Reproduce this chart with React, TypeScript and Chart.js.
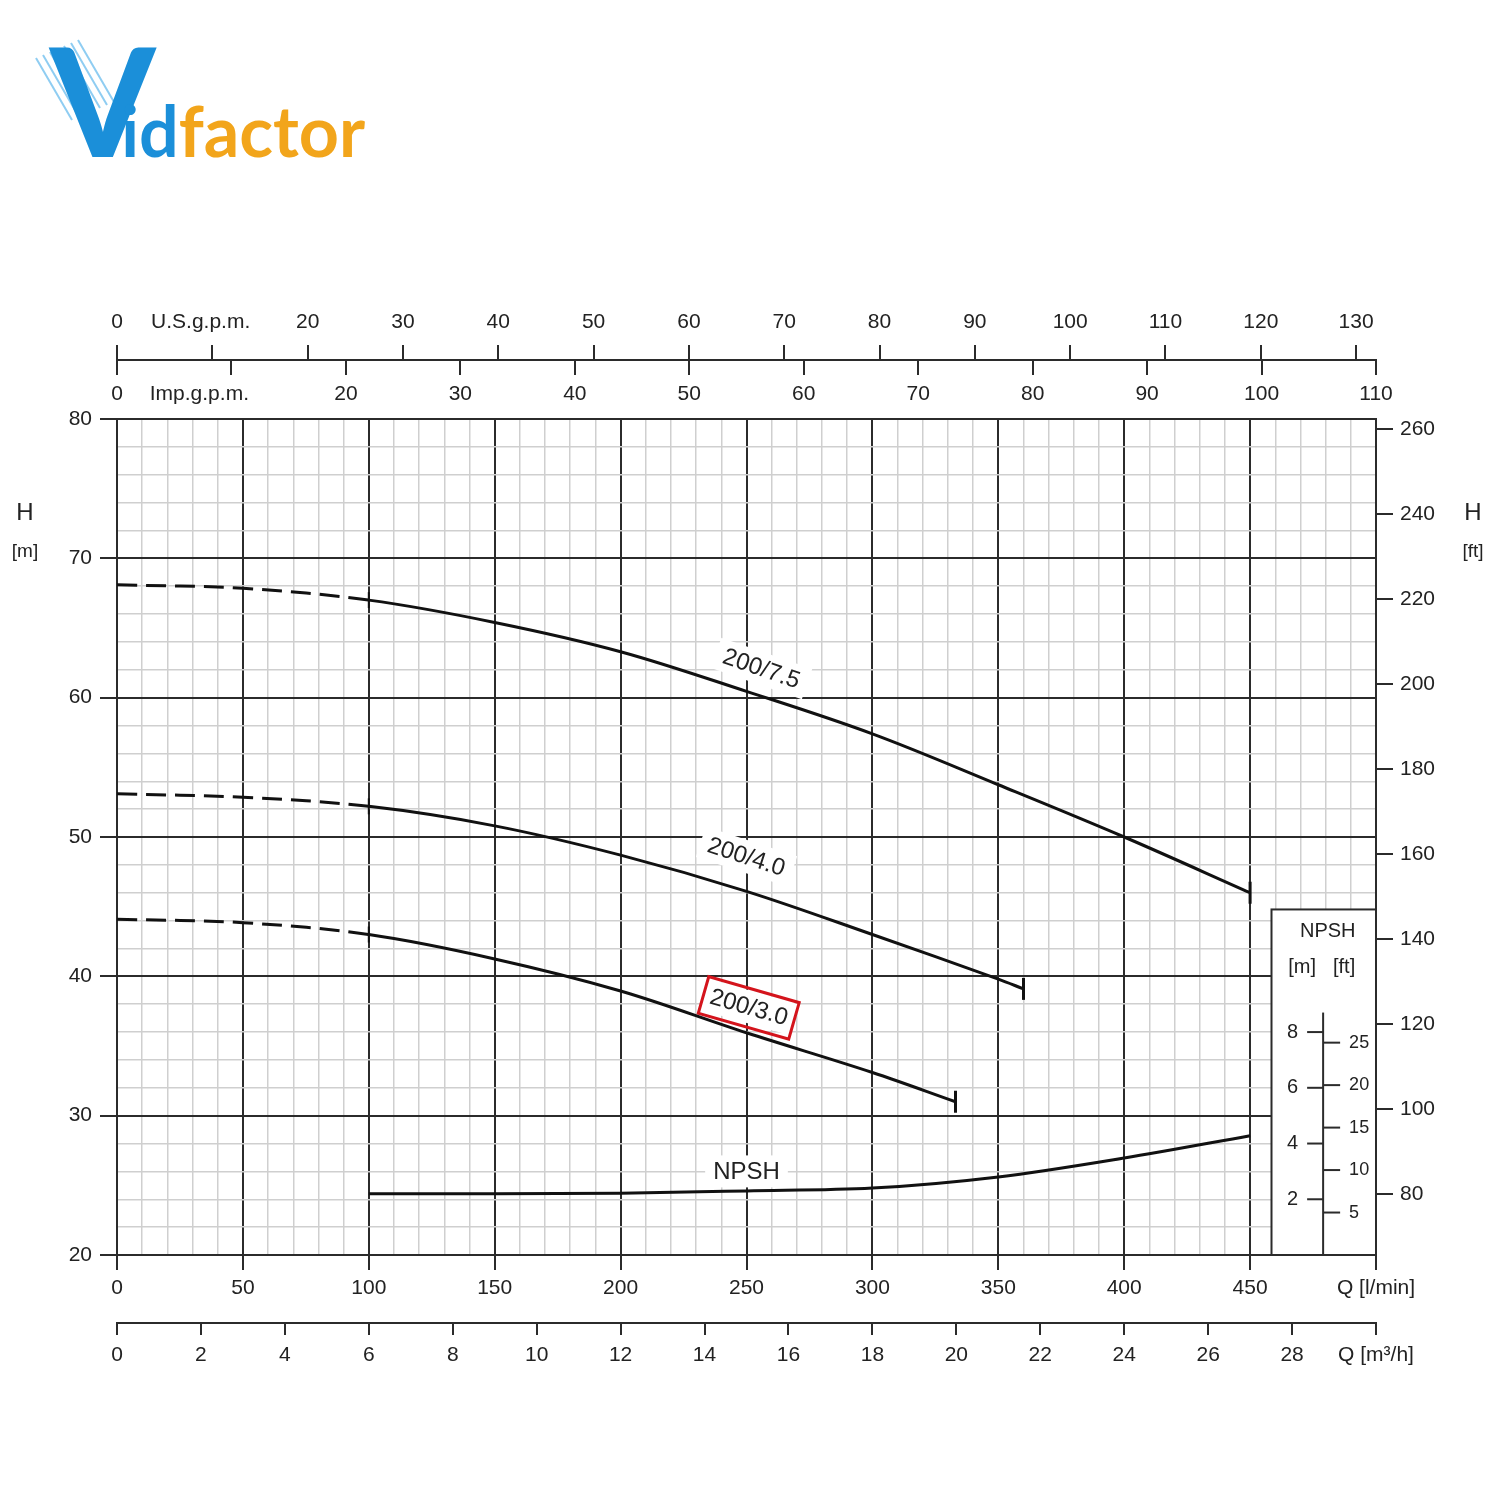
import React, { useEffect, useRef } from 'react';
import { Chart, registerables } from 'chart.js';

Chart.register(...registerables);

// ---------- data ----------
const Q_75 = [0, 50, 100, 150, 200, 250, 300, 350, 400, 450];
const H_75 = [68.1, 67.85, 67.0, 65.4, 63.3, 60.45, 57.4, 53.75, 50.0, 46.0];
const Q_40 = [0, 50, 100, 150, 200, 250, 300, 350, 360];
const H_40 = [53.1, 52.85, 52.2, 50.8, 48.7, 46.1, 43.0, 39.8, 39.1];
const Q_30 = [0, 50, 100, 150, 200, 250, 300, 333];
const H_30 = [44.1, 43.85, 43.0, 41.25, 38.95, 35.95, 33.1, 31.0];
const Q_NPSH = [100, 150, 200, 250, 300, 350, 400, 450];
const NPSH_M = [2.2, 2.2, 2.22, 2.3, 2.4, 2.8, 3.48, 4.28];

const CURVE_NAMES = ['200/7.5', '200/4.0', '200/3.0', 'NPSH'];

// ---------- tick labels ----------
const Q_LMIN_LABELS = [0, 50, 100, 150, 200, 250, 300, 350, 400, 450];
const Q_LMIN_UNIT = 'Q [l/min]';
const M3H_TICKS = [0, 2, 4, 6, 8, 10, 12, 14, 16, 18, 20, 22, 24, 26, 28, 30];
const M3H_UNIT = 'Q [m³/h]';
const US_GPM_TICKS = [0, 10, 20, 30, 40, 50, 60, 70, 80, 90, 100, 110, 120, 130];
const US_GPM_NAME = 'U.S.g.p.m.';
const IMP_GPM_TICKS = [0, 10, 20, 30, 40, 50, 60, 70, 80, 90, 100, 110];
const IMP_GPM_NAME = 'Imp.g.p.m.';
const H_M_LABELS = [20, 30, 40, 50, 60, 70, 80];
const H_FT_TICKS = [80, 100, 120, 140, 160, 180, 200, 220, 240, 260];
const NPSH_M_TICKS = [2, 4, 6, 8];
const NPSH_FT_TICKS = [5, 10, 15, 20, 25];

// ---------- unit conversions ----------
const L_PER_USGAL = 3.78541;
const FT_PER_M = 3.28084;

// ---------- styling / placement ----------
const FONT = "'Liberation Sans', Arial, sans-serif";
const DARK = '#2b2b2b';
const MINOR = '#cfcfcf';
const TEXT = '#222';
const CLEAR = 'rgba(0,0,0,0)';

const LABEL_POS = [
  { q: 256, h: 62.1, angle: 19, boxed: false },
  { q: 250, h: 48.6, angle: 18, boxed: false },
  { q: 251, h: 37.8, angle: 16, boxed: true },
  { q: 250, h: 26.0, angle: 0, boxed: false },
];
const INSET = { qLeft: 458.5, hTop: 44.8, axisQ: 479, axisTopNpsh: 8.7 };

const isMajorQ = (v: number) => Math.round(v) % 50 === 0;
const isMajorH = (v: number) => Math.round(v) % 10 === 0;

function curveDataset(qs: number[], hs: number[]) {
  const last = qs.length - 1;
  return {
    data: qs.map((q, i) => ({ x: q, y: hs[i] })),
    xAxisID: 'x',
    yAxisID: 'y',
    borderColor: '#111',
    borderWidth: 3,
    tension: 0.35,
    pointStyle: 'line',
    rotation: 90,
    pointBorderColor: '#111',
    pointBackgroundColor: '#111',
    pointRadius: (c: any) => (c.dataIndex === last ? 11 : c.raw && c.raw.x === 100 ? 8 : 0),
    pointBorderWidth: (c: any) => (c.dataIndex === last ? 3 : 2),
    segment: {
      borderDash: (c: any) => (c.p1.parsed.x <= 100 ? [20, 9] : undefined),
    },
  };
}

const decor = {
  id: 'decor',
  beforeDatasetsDraw(chart: any) {
    const { ctx } = chart;
    const x = chart.scales.x;
    const y = chart.scales.y;
    const yN = chart.scales.yN;
    const line = (x1: number, y1: number, x2: number, y2: number) => {
      ctx.beginPath();
      ctx.moveTo(x1, y1);
      ctx.lineTo(x2, y2);
      ctx.stroke();
    };

    // curve labels
    CURVE_NAMES.forEach((name, i) => {
      const p = LABEL_POS[i];
      const px = x.getPixelForValue(p.q);
      const py = y.getPixelForValue(p.h);
      ctx.save();
      ctx.translate(px, py);
      ctx.rotate((p.angle * Math.PI) / 180);
      ctx.font = `24px ${FONT}`;
      const w = ctx.measureText(name).width;
      ctx.fillStyle = '#fff';
      ctx.fillRect(-w / 2 - 8, -16, w + 16, 32);
      ctx.fillStyle = TEXT;
      ctx.textAlign = 'center';
      ctx.textBaseline = 'middle';
      ctx.fillText(name, 0, 1);
      if (p.boxed) {
        ctx.strokeStyle = '#d4141c';
        ctx.lineWidth = 3;
        ctx.strokeRect(-w / 2 - 7, -18, w + 14, 38);
      }
      ctx.restore();
    });

    // NPSH inset
    const bx0 = x.getPixelForValue(INSET.qLeft);
    const by0 = y.getPixelForValue(INSET.hTop);
    const bx1 = chart.chartArea.right;
    const by1 = chart.chartArea.bottom;
    ctx.save();
    ctx.fillStyle = '#fff';
    ctx.fillRect(bx0, by0, bx1 - bx0, by1 - by0);
    ctx.strokeStyle = DARK;
    ctx.lineWidth = 2;
    ctx.strokeRect(bx0, by0, bx1 - bx0, by1 - by0);
    const ax = x.getPixelForValue(INSET.axisQ);
    line(ax, yN.getPixelForValue(INSET.axisTopNpsh), ax, by1);
    ctx.fillStyle = TEXT;
    ctx.textBaseline = 'middle';
    ctx.font = `20px ${FONT}`;
    NPSH_M_TICKS.forEach((v) => {
      const py = yN.getPixelForValue(v);
      line(ax - 16, py, ax, py);
      ctx.textAlign = 'right';
      ctx.fillText(String(v), ax - 25, py);
    });
    ctx.font = `18px ${FONT}`;
    NPSH_FT_TICKS.forEach((v) => {
      const py = yN.getPixelForValue(v / FT_PER_M);
      line(ax, py, ax + 17, py);
      ctx.textAlign = 'left';
      ctx.fillText(String(v), ax + 26, py);
    });
    ctx.font = `20px ${FONT}`;
    ctx.textAlign = 'center';
    ctx.fillText('NPSH', (bx0 + bx1) / 2 + 4, by0 + 22);
    ctx.fillText('[m]', ax - 21, by0 + 58);
    ctx.fillText('[ft]', ax + 21, by0 + 58);
    ctx.restore();
  },
  afterDraw(chart: any) {
    const { ctx, chartArea } = chart;
    const imp = chart.scales.xImp;
    ctx.save();
    ctx.strokeStyle = DARK;
    ctx.lineWidth = 2;
    imp.ticks.forEach((t: any) => {
      const px = Math.round(imp.getPixelForValue(t.value));
      ctx.beginPath();
      ctx.moveTo(px, imp.top);
      ctx.lineTo(px, imp.top + 15);
      ctx.stroke();
    });
    ctx.fillStyle = TEXT;
    ctx.textAlign = 'center';
    ctx.textBaseline = 'middle';
    ctx.font = `24px ${FONT}`;
    ctx.fillText('H', 25, chartArea.top + 94);
    ctx.fillText('H', 1473, chartArea.top + 94);
    ctx.font = `19px ${FONT}`;
    ctx.fillText('[m]', 25, chartArea.top + 133);
    ctx.fillText('[ft]', 1473, chartArea.top + 133);
    ctx.restore();
  },
};

const tickFont = { family: FONT, size: 21 };

export default function App() {
  const ref = useRef<HTMLCanvasElement | null>(null);

  useEffect(() => {
    if (!ref.current) return;
    const chart = new Chart(ref.current, {
      type: 'line',
      data: {
        datasets: [
          curveDataset(Q_75, H_75),
          curveDataset(Q_40, H_40),
          curveDataset(Q_30, H_30),
          {
            data: Q_NPSH.map((q, i) => ({ x: q, y: NPSH_M[i] })),
            xAxisID: 'x',
            yAxisID: 'yN',
            borderColor: '#111',
            borderWidth: 3,
            cubicInterpolationMode: 'monotone',
            pointRadius: 0,
          },
        ] as any,
      },
      options: {
        animation: false,
        responsive: false,
        events: [],
        layout: { padding: { top: 290, bottom: 117, left: 0, right: 0 } },
        plugins: { legend: { display: false }, tooltip: { enabled: false } },
        scales: {
          x: {
            type: 'linear',
            position: 'bottom',
            weight: 0,
            min: 0,
            max: 500,
            afterFit: (s: any) => { s.height = 68; },
            ticks: {
              stepSize: 10,
              autoSkip: false,
              maxRotation: 0,
              padding: 6,
              font: tickFont,
              color: TEXT,
              callback: (v: any) =>
                v === 500 ? Q_LMIN_UNIT : Q_LMIN_LABELS.includes(v) ? String(v) : '',
            },
            grid: {
              color: (c: any) => (c.tick && isMajorQ(c.tick.value) ? DARK : MINOR),
              lineWidth: (c: any) => (c.tick && isMajorQ(c.tick.value) ? 2 : 1.5),
              tickLength: 15,
              tickWidth: 2,
              tickColor: (c: any) => (c.tick && isMajorQ(c.tick.value) ? DARK : CLEAR),
            },
            border: { display: true, color: DARK, width: 2 },
          },
          xM3: {
            type: 'linear',
            position: 'bottom',
            weight: 1,
            min: 0,
            max: 30,
            afterFit: (s: any) => { s.height = 60; },
            afterBuildTicks: (s: any) => { s.ticks = M3H_TICKS.map((v) => ({ value: v })); },
            ticks: {
              autoSkip: false,
              maxRotation: 0,
              padding: 8,
              font: tickFont,
              color: TEXT,
              callback: (v: any) => (v === 30 ? M3H_UNIT : String(v)),
            },
            grid: { drawOnChartArea: false, color: DARK, lineWidth: 2, tickLength: 12 },
            border: { display: true, color: DARK, width: 2 },
          },
          xUS: {
            type: 'linear',
            position: 'top',
            weight: 2,
            min: 0,
            max: 500 / L_PER_USGAL,
            afterFit: (s: any) => { s.height = 70; },
            afterBuildTicks: (s: any) => { s.ticks = US_GPM_TICKS.map((v) => ({ value: v })); },
            ticks: {
              autoSkip: false,
              maxRotation: 0,
              padding: 10,
              font: tickFont,
              color: TEXT,
              callback: (v: any) => (v === 10 ? US_GPM_NAME + '    ' : String(v)),
            },
            grid: { drawOnChartArea: false, color: DARK, lineWidth: 2, tickLength: 15 },
            border: { display: true, color: DARK, width: 2 },
          },
          xImp: {
            type: 'linear',
            position: 'top',
            weight: 1,
            min: 0,
            max: 110,
            afterFit: (s: any) => { s.height = 59; },
            afterBuildTicks: (s: any) => { s.ticks = IMP_GPM_TICKS.map((v) => ({ value: v })); },
            ticks: {
              autoSkip: false,
              maxRotation: 0,
              padding: 12,
              font: tickFont,
              color: TEXT,
              callback: (v: any) => (v === 10 ? IMP_GPM_NAME + '           ' : String(v)),
            },
            grid: { display: false, drawTicks: false },
            border: { display: false },
          },
          y: {
            type: 'linear',
            position: 'left',
            min: 20,
            max: 80,
            afterFit: (s: any) => { s.width = 117; },
            ticks: {
              stepSize: 2,
              autoSkip: false,
              padding: 8,
              font: tickFont,
              color: TEXT,
              callback: (v: any) => (H_M_LABELS.includes(Math.round(v)) && isMajorH(v) ? String(Math.round(v)) : ''),
            },
            grid: {
              color: (c: any) => (c.tick && isMajorH(c.tick.value) ? DARK : MINOR),
              lineWidth: (c: any) => (c.tick && isMajorH(c.tick.value) ? 2 : 1.5),
              tickLength: 17,
              tickWidth: 2,
              tickColor: (c: any) => (c.tick && isMajorH(c.tick.value) ? DARK : CLEAR),
            },
            border: { display: true, color: DARK, width: 2 },
          },
          y2: {
            type: 'linear',
            position: 'right',
            min: 20 * FT_PER_M,
            max: 80 * FT_PER_M,
            afterFit: (s: any) => { s.width = 124; },
            afterBuildTicks: (s: any) => { s.ticks = H_FT_TICKS.map((v) => ({ value: v })); },
            ticks: { autoSkip: false, padding: 7, font: tickFont, color: TEXT },
            grid: { drawOnChartArea: false, color: DARK, lineWidth: 2, tickLength: 17 },
            border: { display: true, color: DARK, width: 2 },
          },
          yN: {
            type: 'linear',
            display: false,
            min: 0,
            max: 30,
          },
        },
      } as any,
      plugins: [decor],
    });
    return () => chart.destroy();
  }, []);

  const speedLines = [0, 1, 2, 3, 4, 5, 6];

  return (
    <div style={{ position: 'absolute', left: 0, top: 0, width: 1500, height: 1500, background: '#fff' }}>
      <canvas ref={ref} width={1500} height={1500} style={{ display: 'block', width: 1500, height: 1500 }} />
      <svg width={140} height={140} style={{ position: 'absolute', left: 28, top: 28 }}>
        {speedLines.map((i) => (
          <line
            key={i}
            x1={8 + i * 7}
            y1={30 - i * 3}
            x2={44 + i * 7}
            y2={92 - i * 3}
            stroke="#8fcdf2"
            strokeWidth={2}
          />
        ))}
      </svg>
      <div
        style={{
          position: 'absolute',
          left: 50,
          top: 24,
          display: 'flex',
          alignItems: 'baseline',
          fontFamily: "Lato, 'Open Sans', sans-serif",
          lineHeight: 1,
        }}
      >
        <span style={{ fontSize: 150, fontWeight: 900, color: '#1b8fd9', letterSpacing: -4 }}>V</span>
        <span style={{ fontSize: 70, fontWeight: 700, color: '#1b8fd9', marginLeft: -30 }}>id</span>
        <span style={{ fontSize: 70, fontWeight: 700, color: '#f2a51b' }}>factor</span>
      </div>
    </div>
  );
}
